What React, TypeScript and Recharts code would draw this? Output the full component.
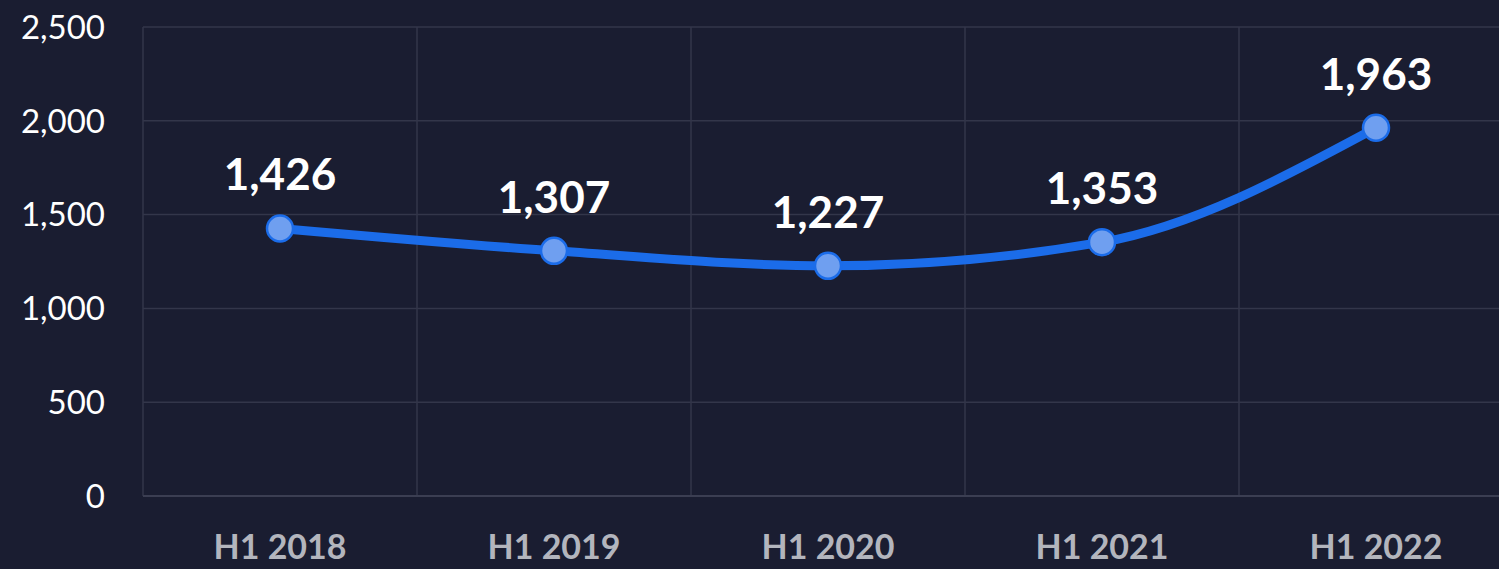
import React from 'react';
import { LineChart, Line, XAxis, YAxis, CartesianGrid, LabelList } from 'recharts';

const periods = ['H1 2018', 'H1 2019', 'H1 2020', 'H1 2021', 'H1 2022'];
const counts = [1426, 1307, 1227, 1353, 1963];
const yTicks = [0, 500, 1000, 1500, 2000, 2500];

const data = periods.map((p, i) => ({ period: p, count: counts[i] }));

const BG = '#1a1d31';
const GRID = '#33364a';
const FONT = 'Lato, "Noto Sans", sans-serif';

const fmt = (v: number) => v.toLocaleString('en-US');

const App: React.FC = () => {
  return (
    <div style={{ position: 'absolute', top: 0, left: 0, width: 1499, height: 569, overflow: 'hidden', background: BG }}>
      <LineChart width={1513} height={569} data={data} margin={{ top: 27, right: 0, bottom: 0, left: 0 }}>
        <CartesianGrid
          stroke={GRID}
          strokeWidth={1.5}
          verticalCoordinatesGenerator={({ offset }: any) =>
            periods.concat(['']).map((_, i) => offset.left + (offset.width * i) / periods.length)
          }
        />
        <XAxis
          dataKey="period"
          scale="band"
          height={73}
          tickSize={0}
          tickMargin={39}
          axisLine={{ stroke: '#3b3e52', strokeWidth: 2 }}
          tick={{ fill: '#b3b5bd', fontSize: 34, fontWeight: 700, fontFamily: FONT }}
        />
        <YAxis
          width={143}
          domain={[0, 2500]}
          ticks={yTicks}
          tickFormatter={fmt}
          axisLine={false}
          tickSize={0}
          tickMargin={38}
          tick={{ fill: '#ffffff', fontSize: 33, fontFamily: FONT }}
        />
        <Line
          type="monotone"
          dataKey="count"
          stroke="#1b6ce9"
          strokeWidth={9}
          dot={{ r: 13, fill: '#6f9ff0', stroke: '#1b6ce9', strokeWidth: 2.5 }}
          activeDot={false}
          isAnimationActive={false}
        >
          <LabelList
            dataKey="count"
            position="top"
            offset={38}
            formatter={(v: any) => fmt(v)}
            style={{ fill: '#ffffff', fontSize: 44, fontWeight: 700, fontFamily: FONT }}
          />
        </Line>
      </LineChart>
    </div>
  );
};

export default App;
